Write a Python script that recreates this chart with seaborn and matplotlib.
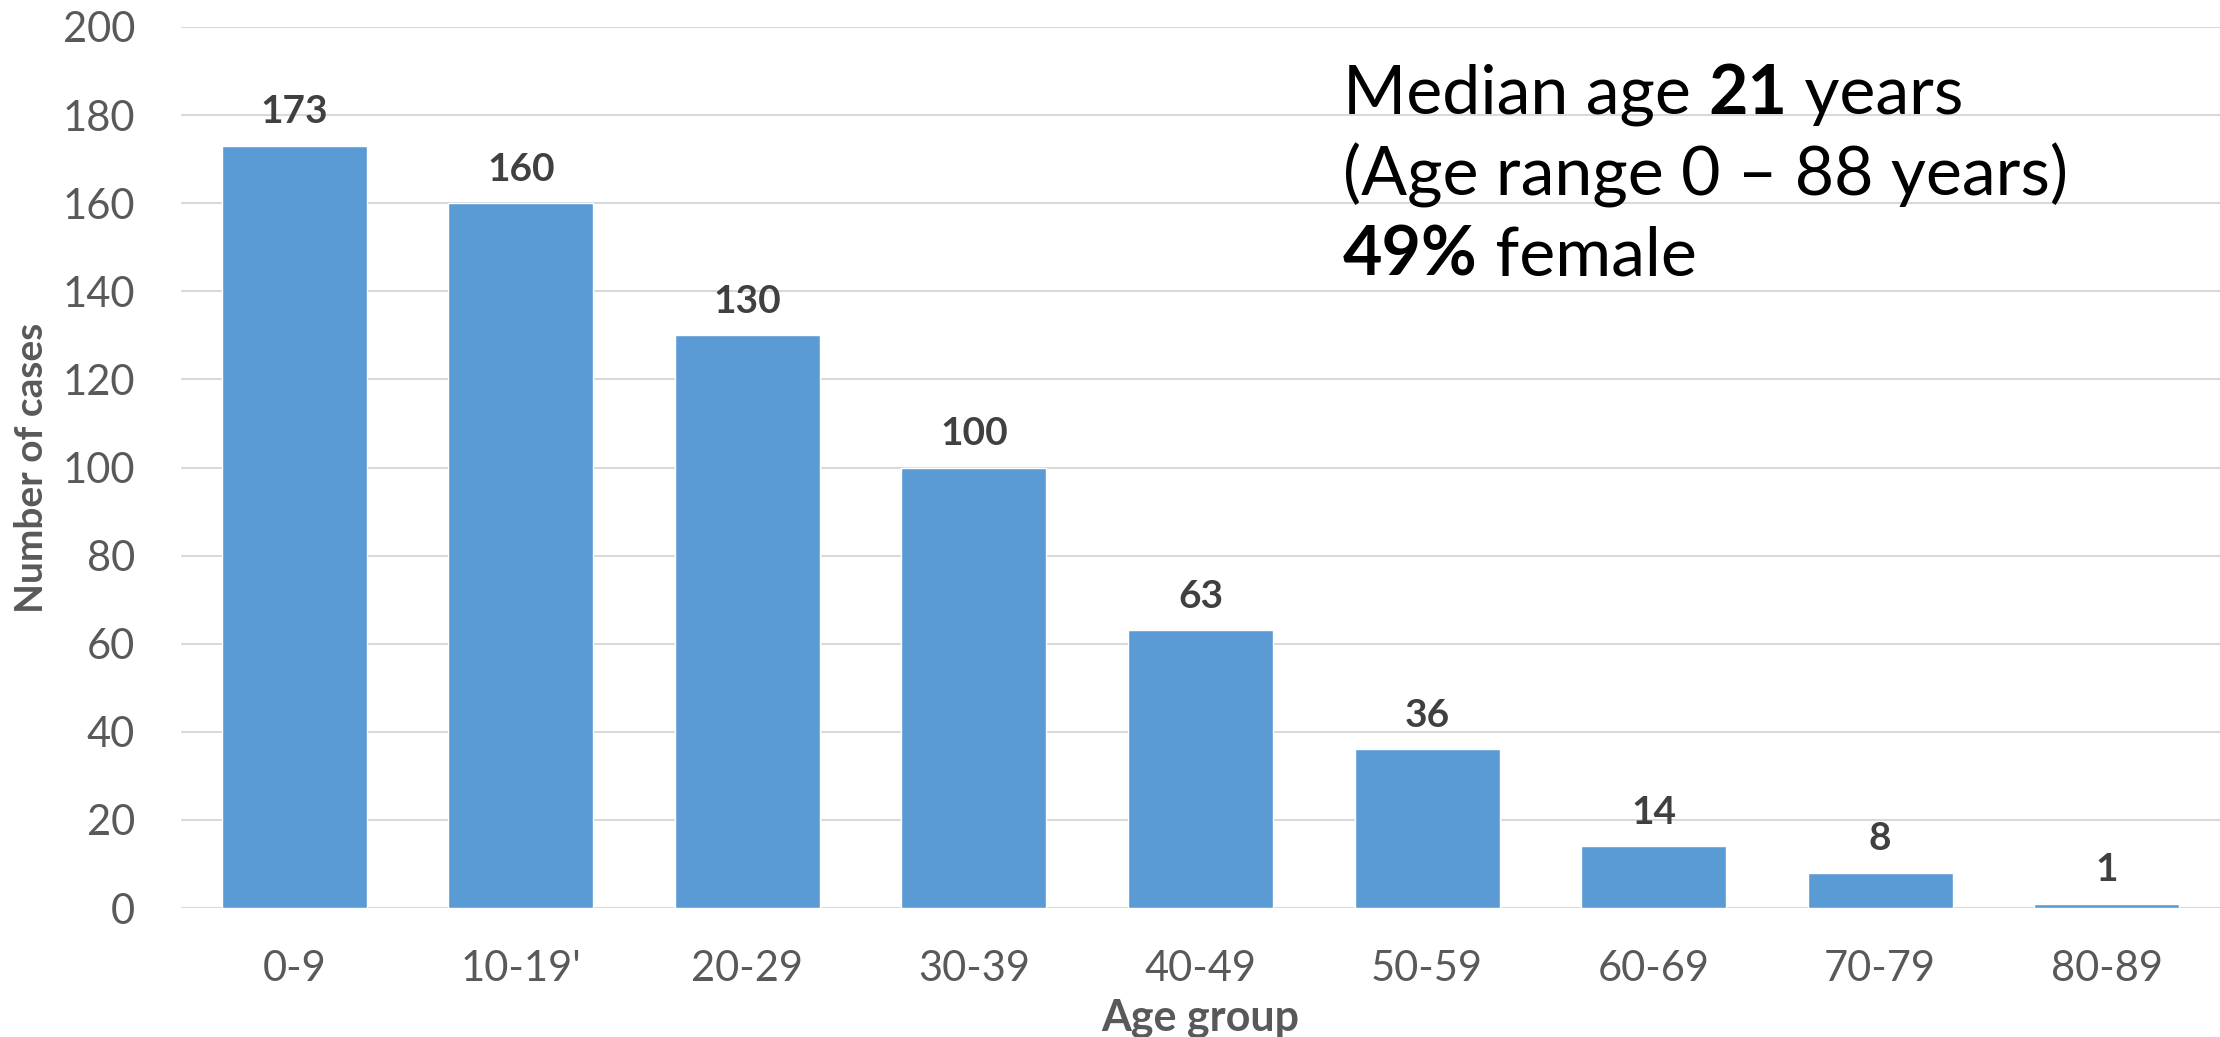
import matplotlib
matplotlib.use("Agg")
import matplotlib.pyplot as plt
import seaborn as sns
import pandas as pd

# ---- data ----
age_groups = ["0-9", "10-19'", "20-29", "30-39", "40-49", "50-59", "60-69", "70-79", "80-89"]
cases = [173, 160, 130, 100, 63, 36, 14, 8, 1]
y_ticks = [0, 20, 40, 60, 80, 100, 120, 140, 160, 180, 200]
x_title = "Age group"
y_title = "Number of cases"
note_lines = [
    [("Median age ", "normal"), ("21", "bold"), (" years", "normal")],
    [("(Age range 0 \u2013 88 years)", "normal")],
    [("49%", "bold"), (" female", "normal")],
]

sns.set_theme(style="white")
plt.rcParams["font.family"] = ["Lato", "DejaVu Sans"]

W, H = 2220, 1037
fig = plt.figure(figsize=(W / 100, H / 100), dpi=100)
ax = fig.add_axes([181 / W, 1 - 908 / H, (W - 181) / W, (908 - 27) / H])

df = pd.DataFrame({"age": age_groups, "cases": cases})
sns.barplot(data=df, x="age", y="cases", color="#5B9BD5", saturation=1,
            width=0.64, ax=ax, zorder=3)

ax.set_xlim(-0.5, len(age_groups) - 0.5)
ax.set_ylim(0, 200)
ax.set_yticks(y_ticks)
ax.yaxis.grid(True, color="#D9D9D9", linewidth=1.5, zorder=0)
ax.set_axisbelow(True)
for s in ax.spines.values():
    s.set_visible(False)

ax.tick_params(axis="both", length=0, labelsize=30, labelcolor="#595959")
ax.tick_params(axis="y", pad=33)
ax.tick_params(axis="x", pad=30)

ax.bar_label(ax.containers[0], padding=12, fontsize=28, fontweight="bold", color="#404040")

ax.set_xlabel(x_title, fontsize=31, fontweight="bold", color="#595959")
ax.set_ylabel(y_title, fontsize=28, fontweight="bold", color="#595959")
ax.xaxis.label.set_va("baseline")
ax.xaxis.set_label_coords(0.5, (908 - 1030) / (908 - 27))
ax.yaxis.label.set_va("center")
ax.yaxis.set_label_coords((32 - 181) / (W - 181), 0.5)

# ---- annotation with mixed weights ----
fig.canvas.draw()
renderer = fig.canvas.get_renderer()
x0 = 1343 / W
baselines = [114, 195, 275]
for segs, yb in zip(note_lines, baselines):
    x = x0
    for txt, wt in segs:
        t = fig.text(x, 1 - yb / H, txt, fontsize=49, fontweight=wt, color="black",
                     ha="left", va="baseline")
        bb = t.get_window_extent(renderer=renderer)
        x += bb.width / W

fig.savefig("out.png", dpi=100)
